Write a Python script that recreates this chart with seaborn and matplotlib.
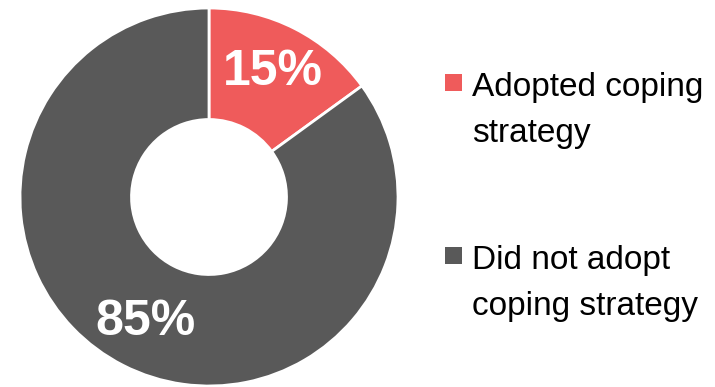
import matplotlib
matplotlib.use("Agg")
import matplotlib.pyplot as plt
from matplotlib.patches import Rectangle
import seaborn as sns

categories = ["Adopted coping\nstrategy", "Did not adopt\ncoping strategy"]
shares = [15, 85]
colors = ["#EF5B5B", "#595959"]

sns.set_theme(style="white")
plt.rcParams["font.family"] = ["Liberation Sans Narrow", "Liberation Sans", "DejaVu Sans"]

W, H = 715, 387
fig = plt.figure(figsize=(W / 100, H / 100), dpi=100)
fig.patch.set_facecolor("white")

# Donut axes: centre (209, 197) px from top-left, outer radius 189 px
cx, cy, R = 209, 197, 189
ax = fig.add_axes([(cx - R) / W, (H - cy - R) / H, 2 * R / W, 2 * R / H])
wedges, texts, autotexts = ax.pie(
    shares,
    colors=colors,
    startangle=90,
    counterclock=False,
    radius=1.0,
    autopct="%d%%",
    pctdistance=0.74,
    wedgeprops=dict(width=0.59, edgecolor="white", linewidth=2),
    textprops=dict(color="white", fontsize=36, fontweight="bold"),
)
ax.set_xlim(-1, 1)
ax.set_ylim(-1, 1)
ax.set_aspect("equal")
ax.axis("off")

# Legend entries: square marker beside the first line, text placed by the
# baseline of its last line (first-line baselines at 95 and 268 px)
first_baselines = [95, 268]
line_gap = 47
for label, color, base in zip(categories, colors, first_baselines):
    fig.patches.append(
        Rectangle((445 / W, 1 - (base - 4) / H), 17 / W, 17 / H,
                  transform=fig.transFigure, facecolor=color, edgecolor="none")
    )
    n_extra = label.count("\n")
    fig.text(472 / W, 1 - (base + n_extra * line_gap) / H, label, fontsize=24,
             color="black", ha="left", va="baseline", linespacing=1.64)

fig.savefig("out.png", dpi=100, facecolor="white")
